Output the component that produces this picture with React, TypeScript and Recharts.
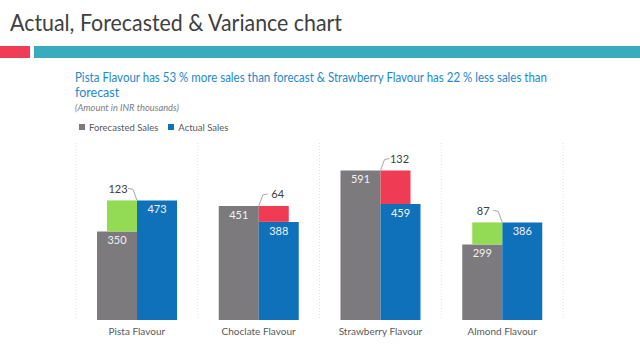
import React from "react";
import { ComposedChart, Bar, XAxis, YAxis, CartesianGrid, Legend, LabelList } from "recharts";

// Values (INR thousands)
const flavours = ["Pista Flavour", "Choclate Flavour", "Strawberry Flavour", "Almond Flavour"];
const forecastSales = [350, 451, 591, 299];
const actualSales = [473, 388, 459, 386];
const varianceLabels = [123, 64, 132, 87];
const legendOrder = ["Forecasted Sales", "Actual Sales"];

const COLORS = {
  forecast: "#7d7a7e",
  actual: "#0f71b9",
  gain: "#94db55",
  loss: "#ef3b53",
  text: "#595959",
};

interface Row {
  name: string;
  forecast: number;
  actual: number;
  variance: number;
}

const data: Row[] = flavours.map((name, i) => ({
  name,
  forecast: forecastSales[i],
  actual: actualSales[i],
  variance: varianceLabels[i],
}));

// range bars: spans from forecast up to actual (gain) or actual up to forecast (loss)
const gainRange = (d: Row) => (d.actual > d.forecast ? [d.forecast, d.actual] : null);
const lossRange = (d: Row) => (d.actual < d.forecast ? [d.actual, d.forecast] : null);

// find the row a range label belongs to (label index skips empty bars)
function findRow(side: "gain" | "loss", value: any, index: number): Row | undefined {
  if (Array.isArray(value)) {
    const [lo, hi] = value;
    return data.find((d) =>
      side === "gain" ? d.forecast === lo && d.actual === hi : d.actual === lo && d.forecast === hi
    );
  }
  const rows = data.filter((d) => (side === "gain" ? d.actual > d.forecast : d.actual < d.forecast));
  return rows[index];
}

// variance label with a small leader line to the bar corner
const varianceLabel = (side: "gain" | "loss") => (props: any) => {
  const { x, y, width, index, value } = props;
  const d = findRow(side, value, index);
  if (!d) return null;
  const dir = side === "gain" ? -1 : 1;
  const cx = side === "gain" ? Number(x) + Number(width) : Number(x);
  const top = Number(y);
  const ly = top - 12;
  return (
    <g>
      <polyline
        points={`${cx + dir * 9},${ly} ${cx + dir * 4},${ly + 1} ${cx},${top}`}
        fill="none"
        stroke="#a6a6a6"
        strokeWidth={1}
      />
      <text x={cx + dir * 19} y={ly} textAnchor="middle" dominantBaseline="central" fontSize={11} fill="#404040">
        {d.variance}
      </text>
    </g>
  );
};

function SalesLegend({ payload }: { payload?: Array<{ value: string; color: string; type?: string }> }) {
  const items = (payload || [])
    .filter((p) => legendOrder.includes(p.value))
    .sort((a, b) => legendOrder.indexOf(a.value) - legendOrder.indexOf(b.value));
  return (
    <div style={{ display: "flex", alignItems: "center", height: 20, fontSize: 9.5, color: COLORS.text }}>
      {items.map((p) => (
        <span key={p.value} style={{ display: "flex", alignItems: "center", marginRight: 10 }}>
          <span style={{ display: "inline-block", width: 6, height: 6, background: p.color, marginRight: 4 }} />
          {p.value}
        </span>
      ))}
    </div>
  );
}

export default function App() {
  return (
    <div
      style={{
        position: "absolute",
        left: 0,
        top: 0,
        width: 640,
        height: 360,
        background: "#fff",
        overflow: "hidden",
        fontFamily: "Lato, sans-serif",
      }}
    >
      <svg width={640} height={115} style={{ position: "absolute", left: 0, top: 0 }}>
        <text x={10} y={31} fontSize={24} fill="#404040" textLength={332} lengthAdjust="spacingAndGlyphs">
          Actual, Forecasted &amp; Variance chart
        </text>
        <rect x={0} y={46} width={30} height={12} fill="#f03c55" />
        <rect x={34} y={46} width={606} height={12} fill="#3aabbe" />
        <text x={75} y={82} fontSize={12.5} fill="#1e88cc" textLength={472} lengthAdjust="spacingAndGlyphs">
          Pista Flavour has 53 % more sales than forecast &amp; Strawberry Flavour has 22 % less sales than
        </text>
        <text x={75} y={97} fontSize={12.5} fill="#1e88cc">
          forecast
        </text>
        <text x={75} y={111} fontSize={9.5} fontStyle="italic" fill="#808080" textLength={104} lengthAdjust="spacingAndGlyphs">
          (Amount in INR thousands)
        </text>
      </svg>

      <div style={{ position: "absolute", left: 0, top: 115 }}>
        <ComposedChart width={640} height={245} data={data} barGap={0} margin={{ top: 8, right: 77, bottom: 10, left: 76 }}>
          <CartesianGrid
            xAxisId="main"
            horizontal={false}
            stroke="#dedede"
            strokeDasharray="1 2"
            verticalCoordinatesGenerator={({ offset }: any) =>
              [0, 1, 2, 3, 4].map((i) => offset.left + (i * offset.width) / 4)
            }
          />
          <XAxis
            xAxisId="main"
            dataKey="name"
            axisLine={false}
            tickLine={false}
            height={30}
            tick={{ fill: COLORS.text, fontSize: 10 }}
          />
          <XAxis xAxisId="var" dataKey="name" hide />
          <YAxis hide domain={[0, 700]} />
          <Legend
            verticalAlign="top"
            align="left"
            wrapperStyle={{ top: 2, left: 79 }}
            content={(p: any) => <SalesLegend payload={p.payload} />}
          />
          <Bar xAxisId="main" dataKey="forecast" name="Forecasted Sales" fill={COLORS.forecast} barSize={40} isAnimationActive={false}>
            <LabelList dataKey="forecast" position="insideTop" offset={5} fill="#f2f2f2" fontSize={11} />
          </Bar>
          <Bar xAxisId="main" dataKey="actual" name="Actual Sales" fill={COLORS.actual} barSize={40} isAnimationActive={false}>
            <LabelList dataKey="actual" position="insideTop" offset={5} fill="#f2f2f2" fontSize={11} />
          </Bar>
          <Bar xAxisId="var" dataKey={gainRange} name="gain" legendType="none" fill={COLORS.gain} barSize={30} isAnimationActive={false}>
            <LabelList content={varianceLabel("gain")} />
          </Bar>
          <Bar xAxisId="var" dataKey={lossRange} name="loss" legendType="none" fill={COLORS.loss} barSize={30} isAnimationActive={false}>
            <LabelList content={varianceLabel("loss")} />
          </Bar>
        </ComposedChart>
      </div>
    </div>
  );
}
